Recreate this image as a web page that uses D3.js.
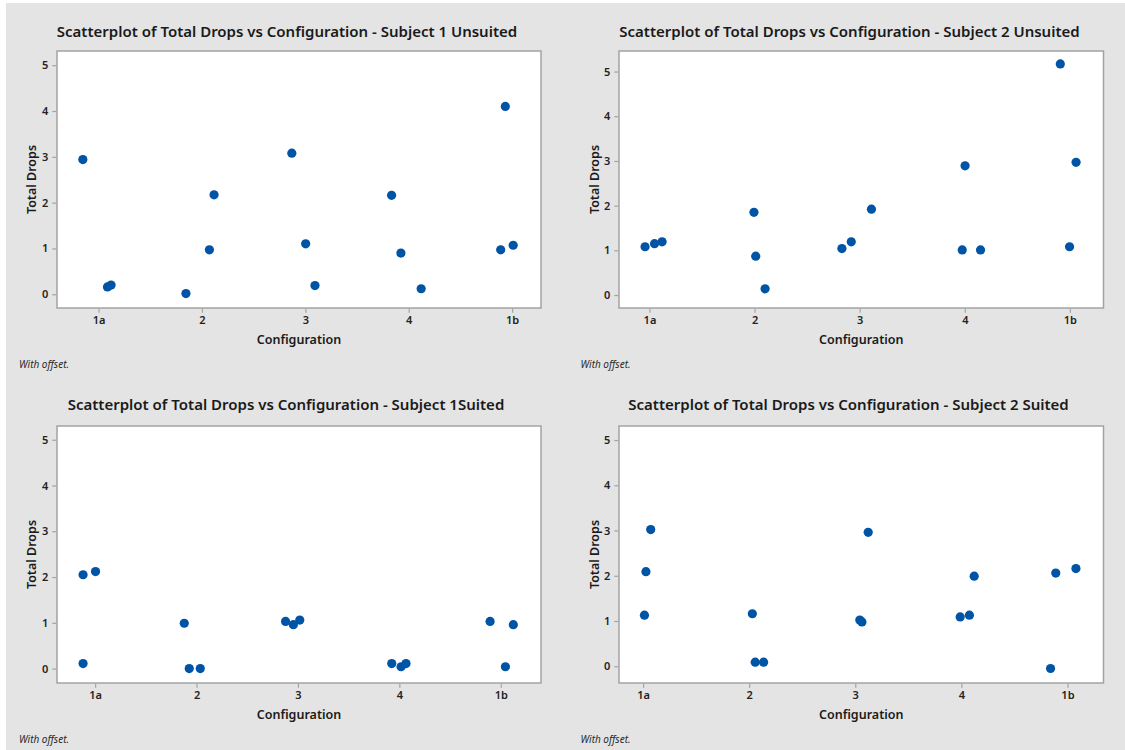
<!DOCTYPE html>
<html>
<head>
<meta charset="utf-8">
<script src="https://cdn.jsdelivr.net/npm/d3@7"></script>
<style>
  html, body { margin: 0; padding: 0; background: #ffffff; }
  svg { display: block; }
  text { font-family: "Noto Sans", "Open Sans", sans-serif; }
</style>
</head>
<body>
<svg id="chart" width="1125" height="750"></svg>
<script>
// ---------- data ----------
const categories = ["1a", "2", "3", "4", "1b"];
const categoryPositions = [1, 2, 3, 4, 5];
const yTicks = [0, 1, 2, 3, 4, 5];

const titles = [
  "Scatterplot of Total Drops vs Configuration - Subject 1 Unsuited",
  "Scatterplot of Total Drops vs Configuration - Subject 2 Unsuited",
  "Scatterplot of Total Drops vs Configuration - Subject 1Suited",
  "Scatterplot of Total Drops vs Configuration - Subject 2 Suited"
];
const xLabel = "Configuration";
const yLabel = "Total Drops";
const footnote = "With offset.";

// configuration position (with offset) and total drops, per panel
const s1UnsuitedX = [0.848, 1.086, 1.121, 1.845, 2.072, 2.117, 2.869, 3.003, 3.093, 3.834, 3.924, 4.120, 4.934, 4.889, 5.010];
const s1UnsuitedY = [2.94, 0.16, 0.20, 0.015, 0.97, 2.17, 3.08, 1.10, 0.19, 2.16, 0.90, 0.12, 4.10, 0.97, 1.07];

const s2UnsuitedX = [0.958, 1.048, 1.120, 1.994, 2.011, 2.100, 2.831, 2.920, 3.112, 3.976, 4.003, 4.150, 4.909, 5.059, 4.997];
const s2UnsuitedY = [1.08, 1.15, 1.19, 1.85, 0.87, 0.14, 1.04, 1.19, 1.92, 1.01, 2.89, 1.01, 5.17, 2.97, 1.08];

const s1SuitedX = [0.881, 1.004, 0.881, 1.879, 1.928, 2.037, 2.878, 2.955, 3.018, 3.925, 4.017, 4.066, 4.895, 5.124, 5.046];
const s1SuitedY = [2.05, 2.12, 0.11, 0.99, 0.00, 0.00, 1.03, 0.96, 1.06, 0.11, 0.04, 0.11, 1.03, 0.96, 0.04];

const s2SuitedX = [1.013, 1.027, 1.072, 2.030, 2.057, 2.136, 3.043, 3.063, 3.122, 3.989, 4.076, 4.121, 4.841, 4.890, 5.080];
const s2SuitedY = [1.13, 2.09, 3.02, 1.16, 0.09, 0.09, 1.02, 0.98, 2.96, 1.09, 1.13, 1.99, -0.05, 2.06, 2.16];

const xDomains = [[0.598, 5.279], [0.71, 5.32], [0.624, 5.397], [0.773, 5.34]];
const yDomains = [[-0.30, 5.31], [-0.29, 5.46], [-0.315, 5.30], [-0.37, 5.31]];

// ---------- drawing ----------
const svg = d3.select("#chart");
const W = 1125, H = 750;
const panelW = 562.5, panelH = 375;
const bg = "#e4e4e4";
const dotColor = "#0054a6";
const boxColor = "#a3a3a3";

svg.append("rect").attr("x", 6).attr("y", 3).attr("width", W - 6).attr("height", H - 3).attr("fill", bg);

const panels = [
  { xs: s1UnsuitedX, ys: s1UnsuitedY },
  { xs: s2UnsuitedX, ys: s2UnsuitedY },
  { xs: s1SuitedX, ys: s1SuitedY },
  { xs: s2SuitedX, ys: s2SuitedY }
];

panels.forEach((p, i) => {
  const col = i % 2, row = Math.floor(i / 2);
  const ox = col * panelW, oy = row * panelH;
  const left = ox + (col === 0 ? 57 : 56.5);
  const right = ox + 541;
  const top = oy + 51;
  const bottom = oy + 308;

  const g = svg.append("g");

  const x = d3.scaleLinear().domain(xDomains[i]).range([left, right]);
  const y = d3.scaleLinear().domain(yDomains[i]).range([bottom, top]);

  // plot area
  g.append("rect").attr("x", left).attr("y", top)
    .attr("width", right - left).attr("height", bottom - top)
    .attr("fill", "#ffffff").attr("stroke", boxColor).attr("stroke-width", 1.5);

  // axes
  const xAxis = d3.axisBottom(x).tickValues(categoryPositions)
    .tickFormat((d, k) => categories[k]).tickSize(4).tickPadding(3);
  const gx = g.append("g").attr("transform", `translate(0,${bottom + 0.75})`).call(xAxis);
  gx.select(".domain").remove();
  gx.selectAll(".tick line").attr("stroke", boxColor).attr("stroke-width", 1.2);
  gx.selectAll(".tick text").attr("fill", "#222").attr("font-size", 11).attr("font-weight", 600);

  const yAxis = d3.axisLeft(y).tickValues(yTicks).tickFormat(d3.format("d")).tickSize(4).tickPadding(4);
  const gy = g.append("g").attr("transform", `translate(${left - 0.75},0)`).call(yAxis);
  gy.select(".domain").remove();
  gy.selectAll(".tick line").attr("stroke", boxColor).attr("stroke-width", 1.2);
  gy.selectAll(".tick text").attr("fill", "#222").attr("font-size", 11).attr("font-weight", 600);

  // points
  g.selectAll("circle.pt").data(p.xs.map((v, k) => [v, p.ys[k]]))
    .enter().append("circle").attr("class", "pt")
    .attr("cx", d => x(d[0])).attr("cy", d => y(d[1]))
    .attr("r", 4.6).attr("fill", dotColor);

  // title
  g.append("text").attr("x", ox + 287 - (row === 1 ? 1 : 0)).attr("y", oy + (row === 0 ? 37 : 34.5))
    .attr("text-anchor", "middle").attr("font-size", 15).attr("font-weight", 600)
    .attr("fill", "#1a1a1a").text(titles[i]);

  // axis labels
  g.append("text").attr("x", (left + right) / 2).attr("y", bottom + 36)
    .attr("text-anchor", "middle").attr("font-size", 12.5).attr("font-weight", 600)
    .attr("fill", "#1a1a1a").text(xLabel);
  g.append("text")
    .attr("transform", `translate(${ox + 36},${(top + bottom) / 2}) rotate(-90)`)
    .attr("text-anchor", "middle").attr("font-size", 12.5).attr("font-weight", 600)
    .attr("fill", "#1a1a1a").text(yLabel);

  // footnote
  g.append("text").attr("x", ox + (col === 0 ? 19 : 18)).attr("y", oy + 368)
    .attr("font-size", 10).attr("font-style", "italic").attr("fill", "#2a2a2a")
    .text(footnote);
});
</script>
</body>
</html>
